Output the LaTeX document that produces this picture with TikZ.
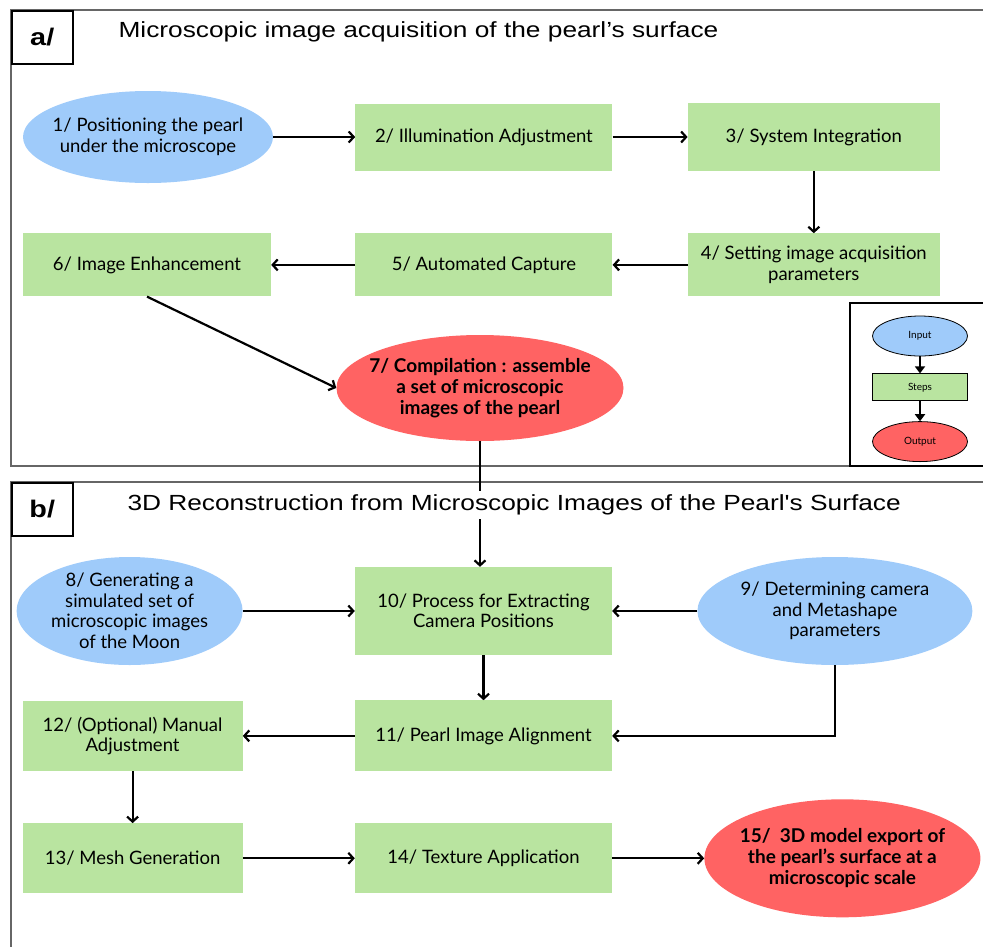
\documentclass[tikz,border=0pt]{standalone}
\usepackage{fontspec}
\setmainfont{Lato}
\newfontfamily\titlefont[FakeStretch=1.2]{Liberation Sans}
\usetikzlibrary{shapes.geometric, arrows, arrows.meta, positioning, calc}

\definecolor{inblue}{HTML}{9FCBFA}
\definecolor{stepgreen}{HTML}{B9E4A0}
\definecolor{outred}{HTML}{FF6363}
\definecolor{framegray}{HTML}{666666}

\begin{document}
\begin{tikzpicture}[
    x=1pt, y=-1pt,
    node distance=60pt,
    inbox/.style={
        ellipse,
        fill=inblue,
        align=center,
        inner xsep=-10pt,
        inner ysep=-3pt,
        font=\fontsize{18.5}{20.5}\selectfont
    },
    stepbox/.style={
        rectangle,
        fill=stepgreen,
        align=center,
        minimum width=257pt,
        minimum height=67pt,
        font=\fontsize{18.5}{20.5}\selectfont
    },
    outbox/.style={
        ellipse,
        fill=outred,
        align=center,
        inner xsep=-20pt,
        inner ysep=0pt,
        font=\bfseries\fontsize{19}{21}\selectfont
    },
    arrow/.style={
        -{Straight Barb[length=5pt, width=11pt]},
        line width=2.2pt,
        black
    },
    legarrow/.style={
        -{Triangle[length=7pt, width=10pt]},
        line width=2pt,
        black
    },
    frame/.style={
        draw=framegray,
        line width=1.5pt
    },
    tag/.style={
        rectangle,
        draw=black,
        line width=1.5pt,
        fill=white,
        minimum width=61pt,
        minimum height=53pt,
        anchor=north west,
        font=\titlefont\bfseries\fontsize{24}{24}\selectfont
    },
    title/.style={
        anchor=west,
        fill=white,
        font=\titlefont\fontsize{21.9}{24}\selectfont
    },
    legend/.style={
        draw=black,
        line width=0.8pt,
        inner sep=0pt,
        font=\fontsize{10}{11}\selectfont,
        minimum width=95pt
    }
]
\clip (0,0) rectangle (983,946);

% Frames of both parts
\draw[frame] (11,10) rectangle (995,466);
\draw[frame] (11,482) rectangle (995,960);
\node[tag] (taga) at (11,10) {a/};
\node[tag] (tagb) at (11,482) {b/};
\node[title] (titlea) at (115,32) {Microscopic image acquisition of the pearl’s surface};

% Part a: acquisition
\node[inbox, minimum width=250pt, minimum height=92pt] (pos1) at (148,137) {
    1/ Positioning the pearl \\ under the microscope
};
\node[stepbox, right=82pt of pos1] (illum2) {2/ Illumination Adjustment};
\node[stepbox, right=75pt of illum2, minimum width=252pt, minimum height=68pt] (integ3) {3/ System Integration};
\node[stepbox, below=62pt of integ3, minimum width=252pt, minimum height=63pt] (param4) {
    4/ Setting image acquisition \\ parameters
};
\node[stepbox, left=75pt of param4, minimum height=63pt] (capture5) {5/ Automated Capture};
\node[stepbox, left=84pt of capture5, minimum width=248pt, minimum height=63pt] (enhance6) {6/ Image Enhancement};
\node[outbox, minimum width=287pt, minimum height=106pt] (compil7) at (480,388) {
    7/ Compilation : assemble \\ a set of microscopic \\ images of the pearl
};

% Part b: reconstruction
\node[stepbox, minimum height=88pt] (extract10) at (483.5,611) {
    10/ Process for Extracting \\ Camera Positions
};
\node[inbox, left=112pt of extract10, minimum width=226pt, minimum height=108pt] (moon8) {
    8/ Generating a \\ simulated set of \\ microscopic images \\ of the Moon
};
\node[inbox, right=85pt of extract10, minimum width=275pt, minimum height=108pt] (camera9) {
    9/ Determining camera \\ and Metashape \\ parameters
};
\node[stepbox, below=45pt of extract10, minimum height=71pt] (align11) {11/ Pearl Image Alignment};
\node[stepbox, left=112pt of align11, minimum width=220pt, minimum height=70pt] (manual12) {
    12/ (Optional) Manual \\ Adjustment
};
\node[stepbox, below=52pt of manual12, minimum width=220pt, minimum height=70pt] (mesh13) {13/ Mesh Generation};
\node[stepbox, right=112pt of mesh13, minimum height=70pt] (texture14) {14/ Texture Application};
\node[outbox, right=92pt of texture14, minimum width=276pt, minimum height=118pt] (export15) {
    15/~~3D model export of \\ the pearl’s surface at a \\ microscopic scale
};

% Arrows of part a
\draw[arrow] (pos1) -- (illum2);
\draw[arrow] (illum2) -- (integ3);
\draw[arrow] (integ3) -- (param4);
\draw[arrow] (param4) -- (capture5);
\draw[arrow] (capture5) -- (enhance6);
\draw[arrow] (enhance6.south) -- (compil7.west);

% Link between parts (the title of part b covers it)
\draw[arrow] (compil7.south) -- (compil7.south |- extract10.north);
\node[title] (titleb) at (124,505) {3D Reconstruction from Microscopic Images of the Pearl's Surface};

% Arrows of part b
\draw[arrow] (moon8) -- (extract10);
\draw[arrow] (camera9) -- (extract10);
\draw[arrow] (extract10) -- (align11);
\draw[arrow] (camera9.south) |- (align11.east);
\draw[arrow] (align11) -- (manual12);
\draw[arrow] (manual12) -- (mesh13);
\draw[arrow] (mesh13) -- (texture14);
\draw[arrow] (texture14) -- (export15);

% Legend
\draw[draw=black, line width=2pt] (850,303) rectangle (995,466);
\node[inbox, legend, minimum height=40pt] (leginput) at (920,336) {Input};
\node[stepbox, legend, minimum height=27pt, below=17pt of leginput] (legsteps) {Steps};
\node[outbox, legend, font=\fontsize{10}{11}\selectfont, minimum height=40pt, below=20pt of legsteps] (legoutput) {Output};
\draw[legarrow] (leginput) -- (legsteps);
\draw[legarrow] (legsteps) -- (legoutput);

\end{tikzpicture}
\end{document}
